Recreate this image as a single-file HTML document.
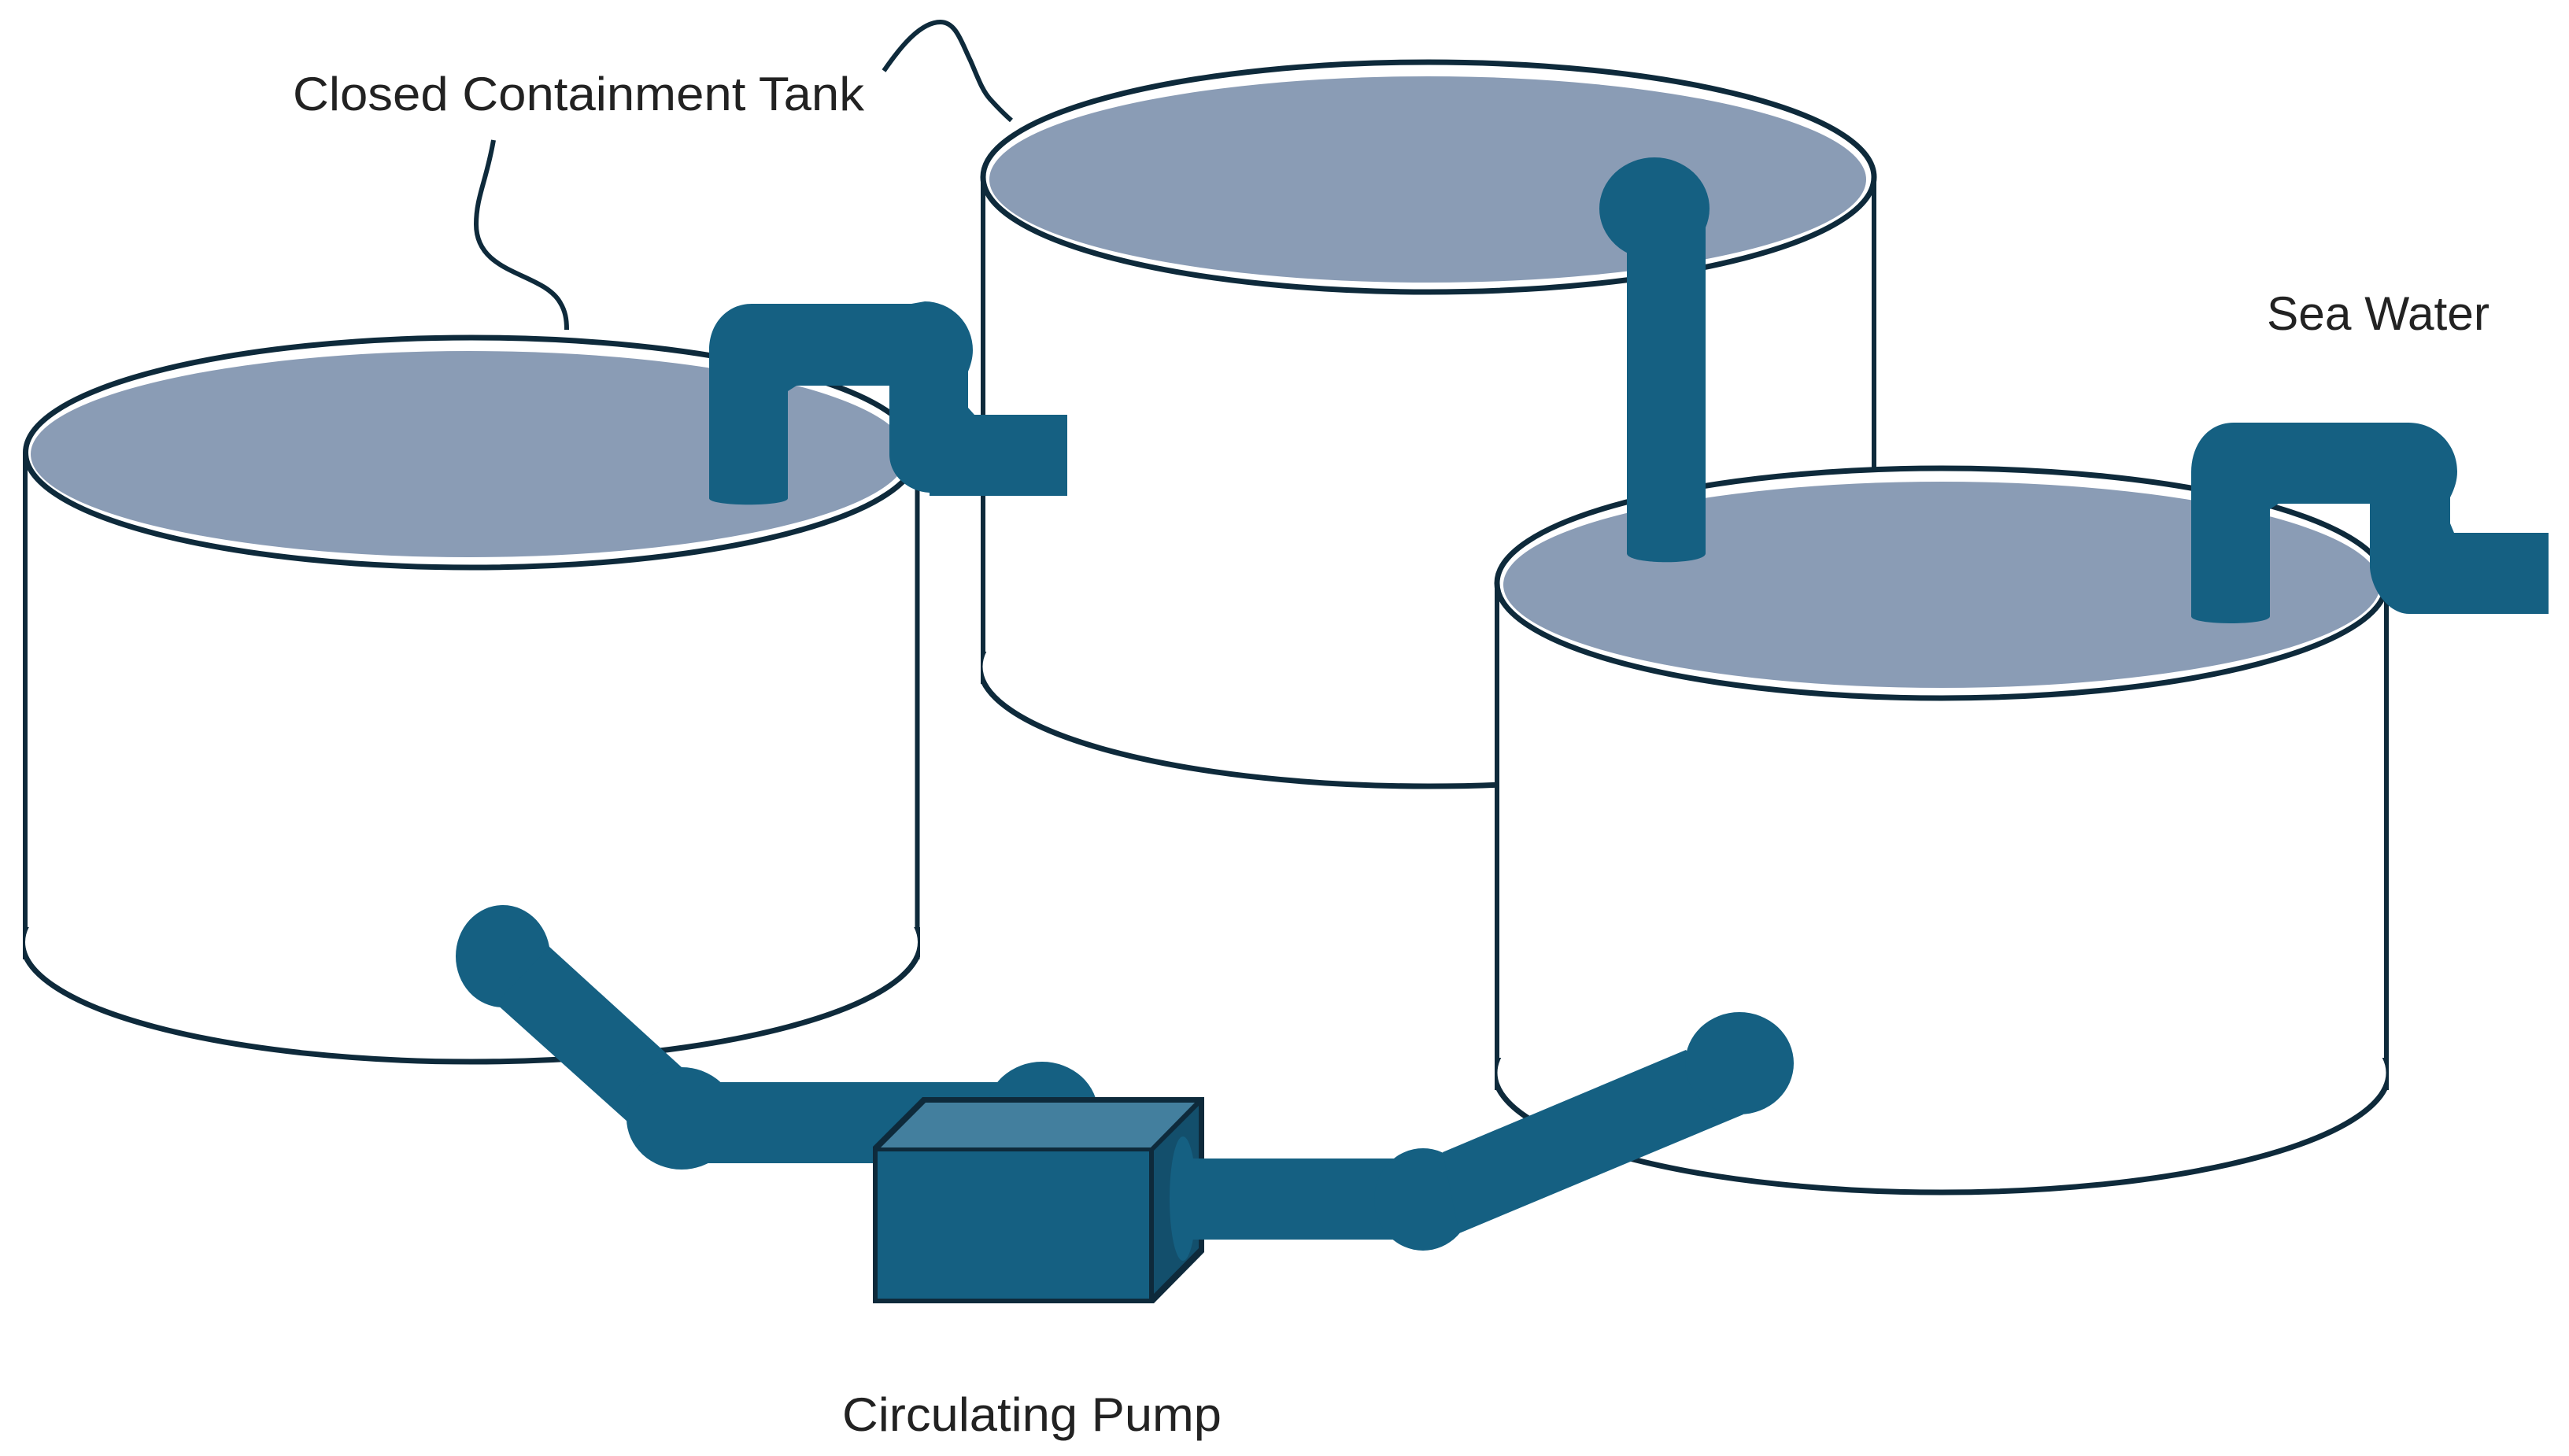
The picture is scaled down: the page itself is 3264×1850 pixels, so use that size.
<!DOCTYPE html>
<html>
<head>
<meta charset="utf-8">
<style>
html,body{margin:0;padding:0;background:#fff}
svg{display:block}
text{font-family:"Liberation Sans",sans-serif;fill:#222;font-size:60px}
</style>
</head>
<body>
<svg width="3264" height="1850" viewBox="0 0 3264 1850" xmlns="http://www.w3.org/2000/svg">
<defs>
<clipPath id="c2"><rect x="1246" y="828" width="1138" height="300"/></clipPath>
<clipPath id="c1"><rect x="29" y="1178" width="1140" height="300"/></clipPath>
<clipPath id="c3"><rect x="1899" y="1344" width="1136" height="300"/></clipPath>
</defs>
<rect width="3264" height="1850" fill="#fff"/>

<!-- Tank 2 (back) -->
<rect x="1249" y="225" width="1132" height="622" fill="#fff"/>
<path d="M1249 225 V869 M2381 225 V869" fill="none" stroke="#0e2a3b" stroke-width="6"/>
<ellipse cx="1815" cy="847" rx="570" ry="152" fill="#fff" stroke="#0e2a3b" stroke-width="7" clip-path="url(#c2)"/>
<ellipse cx="1815" cy="225" rx="566" ry="146" fill="#fff" stroke="#0e2a3b" stroke-width="7"/>
<ellipse cx="1814" cy="228" rx="557" ry="131" fill="#8a9cb5"/>

<!-- Tank 1 -->
<rect x="32" y="575" width="1133" height="622" fill="#fff"/>
<path d="M32 575 V1219 M1165.500 575 V1219" fill="none" stroke="#0e2a3b" stroke-width="6"/>
<ellipse cx="599" cy="1197" rx="570.500" ry="152" fill="#fff" stroke="#0e2a3b" stroke-width="7" clip-path="url(#c1)"/>
<ellipse cx="599" cy="575" rx="566.500" ry="146" fill="#fff" stroke="#0e2a3b" stroke-width="7"/>
<ellipse cx="596" cy="577" rx="557" ry="131" fill="#8a9cb5"/>

<!-- Tank 3 -->
<rect x="1902" y="741" width="1130" height="622" fill="#fff"/>
<path d="M1902 741 V1385 M3032 741 V1385" fill="none" stroke="#0e2a3b" stroke-width="6"/>
<ellipse cx="2467" cy="1363" rx="568" ry="152" fill="#fff" stroke="#0e2a3b" stroke-width="7" clip-path="url(#c3)"/>
<ellipse cx="2467" cy="741" rx="565" ry="146" fill="#fff" stroke="#0e2a3b" stroke-width="7"/>
<ellipse cx="2467" cy="743" rx="557" ry="131" fill="#8a9cb5"/>

<!-- Leaders -->
<path d="M627 178 C618 230 605 250 605 285 C605 350 690 345 712 385 C718 395 720 405 720 419" fill="none" stroke="#0e2a3b" stroke-width="6"/>
<path d="M1123 90 C1145 58 1170 28 1195 28 C1215 28 1222 55 1233 77 C1243 100 1248 115 1258 126 C1267 136 1277 146 1285 153" fill="none" stroke="#0e2a3b" stroke-width="6"/>

<!-- Pipes -->
<g fill="#156082">
<path d="M901 633 V445 C901 410 925 386 955 386 H1158 L1175 383 A61 62 0 0 1 1236 445 C1236 455 1233 465 1230 472 V518 L1238 527 H1356 V630 H1181 V626 C1155 625 1130 605 1130 577 V490 H1012 L1001 497 V633 C1001 644 901 644 901 633 Z"/>
<path d="M2784 783 V600 C2784 565 2805 537 2838 537 H3060 C3095 537 3122 565 3122 599 C3122 610 3119 620 3113 632 V665 L3118 677 H3238 V780 H3061 C3035 780 3013 750 3011 721 V640 H2895 L2884 647 V783 C2884 795 2784 795 2784 783 Z"/>
<ellipse cx="2102" cy="265" rx="70" ry="65"/>
<path d="M2067 270 H2167 V703 C2167 718 2067 718 2067 703 Z"/>

<!-- lower left -->
<ellipse cx="639" cy="1215" rx="60" ry="65"/>
<polygon points="698,1203 866,1356 900,1400 797,1425 630,1275"/>
<ellipse cx="866" cy="1421" rx="70" ry="65"/>
<rect x="866" y="1375" width="458" height="103"/>
<ellipse cx="1324" cy="1414" rx="71" ry="65"/>
</g>

<!-- Pump -->
<polygon points="1109,1656 1109,1457 1172,1394 1530,1394 1530,1591 1466,1656" fill="#0e2a3b"/>
<polygon points="1119,1458 1176,1401 1518,1401 1462,1458" fill="#437f9e"/>
<polygon points="1466,1462 1523,1405 1523,1586 1466,1644" fill="#134f6c"/>
<rect x="1115" y="1463" width="345" height="187" fill="#156082"/>

<g fill="#156082">
<ellipse cx="1503" cy="1523" rx="17" ry="79"/>
<rect x="1503" y="1472" width="310" height="103"/>
<ellipse cx="1808" cy="1524" rx="62" ry="65"/>
<polygon points="1833,1464 2142,1334 2215,1416 1854,1567"/>
<ellipse cx="2210" cy="1351" rx="69" ry="65"/>
</g>

<!-- Labels -->
<text x="372" y="140" textLength="726" lengthAdjust="spacingAndGlyphs">Closed Containment Tank</text>
<text x="2880" y="419" textLength="283" lengthAdjust="spacingAndGlyphs">Sea Water</text>
<text x="1070" y="1818" textLength="482" lengthAdjust="spacingAndGlyphs">Circulating Pump</text>
</svg>
</body>
</html>
